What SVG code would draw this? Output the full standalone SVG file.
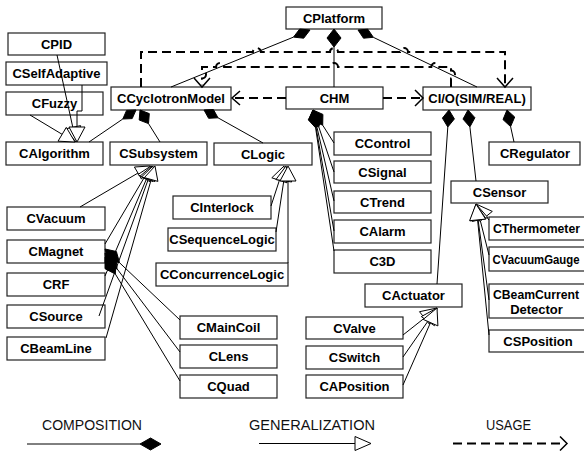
<svg xmlns="http://www.w3.org/2000/svg" width="584" height="451" viewBox="0 0 584 451">
<style>
.box{fill:#fff;stroke:#222;stroke-width:1.2}
.lbl{font-family:"Liberation Sans",Arial,sans-serif;font-weight:bold;font-size:13px;text-anchor:middle;fill:#000}
.leg{font-family:"Liberation Sans",Arial,sans-serif;font-size:15px;text-anchor:start;fill:#111}
.ln{stroke:#000;stroke-width:1;fill:none}
.dash{stroke:#000;stroke-width:2;stroke-dasharray:9 5;fill:none}
.dia{fill:#000;stroke:#000;stroke-width:1;stroke-linejoin:round}
.tri{fill:#fff;stroke:#000;stroke-width:1}
.arr{fill:none;stroke:#000;stroke-width:1.5}
</style>
<rect width="584" height="451" fill="#fff"/>
<g id="nodes">
<g id="CPlatform"><rect class="box" x="286" y="7" width="96" height="22"/><text class="lbl" x="334" y="22.6">CPlatform</text></g>
<g id="CPID"><rect class="box" x="8" y="33" width="97" height="22"/><text class="lbl" x="56.5" y="48.6">CPID</text></g>
<g id="CSelfAdaptive"><rect class="box" x="6" y="62" width="101" height="23"/><text class="lbl" x="56.5" y="78.1">CSelfAdaptive</text></g>
<g id="CFuzzy"><rect class="box" x="6" y="92" width="97" height="23"/><text class="lbl" x="54.5" y="108.1">CFuzzy</text></g>
<g id="CCyclotronModel"><rect class="box" x="111" y="87" width="120" height="23"/><text class="lbl" x="171" y="103.1" textLength="108" lengthAdjust="spacingAndGlyphs">CCyclotronModel</text></g>
<g id="CHM"><rect class="box" x="286" y="87" width="97" height="22"/><text class="lbl" x="334.5" y="102.6">CHM</text></g>
<g id="CIO"><rect class="box" x="423" y="87" width="108" height="23"/><text class="lbl" x="477" y="103.1">CI/O(SIM/REAL)</text></g>
<g id="CAlgorithm"><rect class="box" x="6" y="142" width="97" height="23"/><text class="lbl" x="54.5" y="158.1">CAlgorithm</text></g>
<g id="CSubsystem"><rect class="box" x="110" y="142" width="97" height="23"/><text class="lbl" x="158.5" y="158.1">CSubsystem</text></g>
<g id="CLogic"><rect class="box" x="214" y="143" width="98" height="22"/><text class="lbl" x="263" y="158.6">CLogic</text></g>
<g id="CControl"><rect class="box" x="334" y="132" width="97" height="23"/><text class="lbl" x="382.5" y="148.1">CControl</text></g>
<g id="CSignal"><rect class="box" x="334" y="161" width="97" height="22"/><text class="lbl" x="382.5" y="176.6">CSignal</text></g>
<g id="CTrend"><rect class="box" x="334" y="191" width="97" height="22"/><text class="lbl" x="382.5" y="206.6">CTrend</text></g>
<g id="CAlarm"><rect class="box" x="334" y="220" width="97" height="23"/><text class="lbl" x="382.5" y="236.1">CAlarm</text></g>
<g id="C3D"><rect class="box" x="334" y="250" width="97" height="23"/><text class="lbl" x="382.5" y="266.1">C3D</text></g>
<g id="CRegulator"><rect class="box" x="489" y="142" width="91" height="23"/><text class="lbl" x="535" y="158.1">CRegulator</text></g>
<g id="CSensor"><rect class="box" x="451" y="181" width="97" height="22"/><text class="lbl" x="499.5" y="196.6">CSensor</text></g>
<g id="CThermometer"><rect class="box" x="489" y="217" width="97" height="23"/><text class="lbl" x="536.5" y="233.1" textLength="87" lengthAdjust="spacingAndGlyphs">CThermometer</text></g>
<g id="CVacuumGauge"><rect class="box" x="489" y="247" width="97" height="24"/><text class="lbl" x="536" y="263.6" textLength="87" lengthAdjust="spacingAndGlyphs">CVacuumGauge</text></g>
<g id="CBeamCurrentDetector"><rect class="box" x="489" y="284" width="97" height="34"/><text class="lbl" x="536" y="298.6" textLength="86" lengthAdjust="spacingAndGlyphs">CBeamCurrent</text><text class="lbl" x="536.5" y="313.6">Detector</text></g>
<g id="CSPosition"><rect class="box" x="489" y="330" width="97" height="22"/><text class="lbl" x="538" y="345.6">CSPosition</text></g>
<g id="CActuator"><rect class="box" x="365" y="284" width="97" height="23"/><text class="lbl" x="413.5" y="300.1">CActuator</text></g>
<g id="CValve"><rect class="box" x="306" y="317" width="97" height="22"/><text class="lbl" x="354.5" y="332.6">CValve</text></g>
<g id="CSwitch"><rect class="box" x="306" y="346" width="97" height="23"/><text class="lbl" x="354.5" y="362.1">CSwitch</text></g>
<g id="CAPosition"><rect class="box" x="306" y="375" width="97" height="23"/><text class="lbl" x="354.5" y="391.1">CAPosition</text></g>
<g id="CMainCoil"><rect class="box" x="180" y="316" width="97" height="23"/><text class="lbl" x="228.5" y="332.1">CMainCoil</text></g>
<g id="CLens"><rect class="box" x="180" y="345" width="97" height="23"/><text class="lbl" x="228.5" y="361.1">CLens</text></g>
<g id="CQuad"><rect class="box" x="180" y="375" width="97" height="23"/><text class="lbl" x="228.5" y="391.1">CQuad</text></g>
<g id="CInterlock"><rect class="box" x="173" y="196" width="98" height="23"/><text class="lbl" x="222" y="212.1">CInterlock</text></g>
<g id="CSequenceLogic"><rect class="box" x="168" y="228" width="108" height="23"/><text class="lbl" x="222" y="244.1">CSequenceLogic</text></g>
<g id="CConcurrenceLogic"><rect class="box" x="156" y="263" width="132" height="23"/><text class="lbl" x="222" y="279.1">CConcurrenceLogic</text></g>
<g id="CVacuum"><rect class="box" x="7" y="207" width="98" height="23"/><text class="lbl" x="56" y="223.1">CVacuum</text></g>
<g id="CMagnet"><rect class="box" x="7" y="240" width="98" height="23"/><text class="lbl" x="56" y="256.1">CMagnet</text></g>
<g id="CRF"><rect class="box" x="7" y="273" width="98" height="23"/><text class="lbl" x="56" y="289.1">CRF</text></g>
<g id="CSource"><rect class="box" x="7" y="305" width="98" height="23"/><text class="lbl" x="56" y="321.1">CSource</text></g>
<g id="CBeamLine"><rect class="box" x="7" y="337" width="98" height="23"/><text class="lbl" x="56" y="353.1">CBeamLine</text></g>
</g>
<g id="connectors">
<path class="ln" d="M293.5,37.1 L171,87 M334,47 V87 M373.3,37.3 L477,87 M122.8,119 L89,142 M148.5,123.6 L160,142 M218,117.8 L263,143 M119.5,262.7 L180,320 M117.1,268.9 L180,352 M115.4,274.1 L180,381 M322.7,125.2 L334,143 M318.8,127 L334,172 M317,127.5 L334,201 M316.1,127.7 L334,231 M315.6,127.8 L334,251 M447.8,127 L437,284 M469.9,126.9 L476,181 M510.6,126.6 L514,142"/>
<polygon class="dia" points="310,30 299.7,29 293.5,37.1 303.7,38.2"/>
<polygon class="dia" points="334,29 341,38 334,47 327,38"/>
<polygon class="dia" points="358,30 367.8,29.2 373.3,37.3 363.5,38.2"/>
<polygon class="dia" points="136,110 126.6,110.4 122.8,119 132.2,118.6"/>
<polygon class="dia" points="140,110 139.2,120 148.5,123.6 149.3,113.6"/>
<polygon class="dia" points="204,110 208.6,118.3 218,117.8 213.4,109.5"/>
<polygon class="dia" points="105,249 108.1,260.2 119.5,262.7 116.4,251.5"/>
<polygon class="dia" points="105,253 106.3,264.6 117.1,268.9 115.8,257.4"/>
<polygon class="dia" points="105,257 105,268.7 115.4,274.1 115.3,262.4"/>
<polygon class="dia" points="313,110 312.8,120.8 322.7,125.2 322.9,114.4"/>
<polygon class="dia" points="313,110 310.2,120.4 318.8,127 321.6,116.6"/>
<polygon class="dia" points="313,110 309.2,120.2 317,127.5 320.8,117.5"/>
<polygon class="dia" points="313,110 308.6,119.9 316.1,127.7 320.4,117.9"/>
<polygon class="dia" points="313,110 308.4,119.8 315.6,127.8 320.2,118"/>
<polygon class="dia" points="449,110 442.4,118.1 447.8,127 454.4,118.9"/>
<polygon class="dia" points="468,110 463,119.1 469.9,126.9 474.9,117.7"/>
<polygon class="dia" points="507,110 503,119.6 510.6,126.6 514.7,117"/>
<path class="ln" d="M57,55 L72.8,127.3 M82,85 V111 H77 V127 M30,115 L62.1,134.3 M80,207 L137.9,173.1 M105,244 L143.9,178.1 M105,276 L146.5,178.9 M99,316 L148.3,179.2 M106,338 L151.2,179.5 M271,206 L279.4,180.3 M276,232 L283.8,180.8 M288,263 V181 M489,220 L486.1,216.4 M489,255 L480,219.5 M489,300 L478.1,219.9 M489,335 L477.6,219.9 M403,335 L424.5,318 M403,357 L427.9,321.2 M403,385 L430.5,322.6"/>
<polygon class="tri" points="76,142 65,129 80.6,125.6"/>
<polygon class="tri" points="77,142 69,127 85,127"/>
<polygon class="tri" points="75,142 58,141.2 66.3,127.4"/>
<polygon class="tri" points="150,166 141.5,179.1 134.4,167"/>
<polygon class="tri" points="151,166 149.9,181.7 137.9,174.5"/>
<polygon class="tri" points="152,166 152.9,181.6 140.1,176.1"/>
<polygon class="tri" points="153,166 154.9,181.6 141.7,176.8"/>
<polygon class="tri" points="155,166 157.9,181.4 144.4,177.6"/>
<polygon class="tri" points="284,166 287,182.8 271.8,177.8"/>
<polygon class="tri" points="286,166 291.7,182 275.9,179.6"/>
<polygon class="tri" points="288,166 296,181 280,181"/>
<polygon class="tri" points="476,204 492.3,211.4 479.9,221.5"/>
<polygon class="tri" points="476,204 487.8,217.5 472.3,221.5"/>
<polygon class="tri" points="476,204 486,218.8 470.2,220.9"/>
<polygon class="tri" points="476,204 485.6,219.1 469.6,220.7"/>
<polygon class="tri" points="437,308 429.4,324.2 419.5,311.7"/>
<polygon class="tri" points="437,308 434.4,325.7 421.3,316.6"/>
<polygon class="tri" points="437,308 437.9,325.9 423.2,319.4"/>
<path class="dash" d="M141,87 V52 H252.9 A4,4 0 0 1 260.9,52 H330 A4,4 0 0 1 338,52 H400 A4,4 0 0 1 408,52 H505 V85"/>
<polyline class="arr" points="497,78 505,87 513,78"/>
<path class="dash" d="M451,87 V78.5 A4,4 0 0 0 451,70.5 V67 H439.3 A4,4 0 0 0 431.3,67 H338 A4,4 0 0 0 330,67 H224.1 A4,4 0 0 0 216.1,67 H202 V70.4 A4,4 0 0 1 202,78.4 V85"/>
<polyline class="arr" points="194,78 202,87 210,78"/>
<path class="dash" d="M286,98 H234"/>
<polyline class="arr" points="240,91 232,98 240,105"/>
<path class="dash" d="M383,98 H421"/>
<polyline class="arr" points="415,90 423,98 415,106"/>
</g>
<g id="legend">
<text class="leg" x="42" y="430" textLength="100" lengthAdjust="spacingAndGlyphs">COMPOSITION</text>
<line class="ln" x1="27" y1="444" x2="140" y2="444"/>
<polygon class="dia" points="140,444 150.5,438 161,444 150.5,450"/>
<text class="leg" x="249" y="430" textLength="126" lengthAdjust="spacingAndGlyphs">GENERALIZATION</text>
<line class="ln" x1="259" y1="443.5" x2="355" y2="443.5"/>
<polygon class="tri" points="355,436.5 371,443.5 355,450.5"/>
<text class="leg" x="486" y="430" textLength="45" lengthAdjust="spacingAndGlyphs">USAGE</text>
<path class="dash" d="M453,443.5 H565"/>
<polyline class="arr" points="560,436.5 567,443.5 560,450.5"/>
</g>
</svg>
